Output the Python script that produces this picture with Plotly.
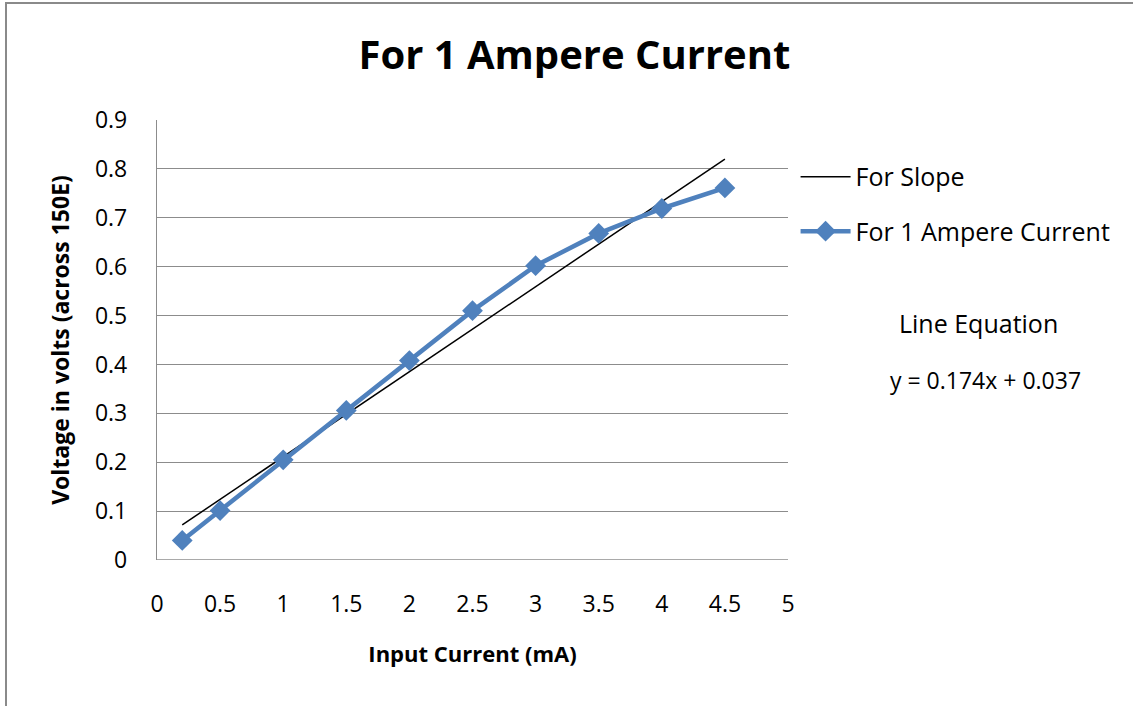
import plotly.graph_objects as go

# Measured voltage across the 150E resistor for a 1 A source
current_ma = [0.2, 0.5, 1.0, 1.5, 2.0, 2.5, 3.0, 3.5, 4.0, 4.5]
voltage_v = [0.040, 0.101, 0.205, 0.306, 0.408, 0.510, 0.602, 0.668, 0.719, 0.761]

# Fitted straight line y = m*x + c
slope_m = 0.174
intercept_c = 0.037
fit_x = [0.2, 4.5]
fit_y = [slope_m * x + intercept_c for x in fit_x]

x_ticks = [0, 0.5, 1, 1.5, 2, 2.5, 3, 3.5, 4, 4.5, 5]
y_ticks = [0, 0.1, 0.2, 0.3, 0.4, 0.5, 0.6, 0.7, 0.8, 0.9]

FONT = "Open Sans"
BLUE = "#4F81BD"
GRID = "#8C8C8C"

fig = go.Figure()

fig.add_trace(go.Scatter(
    x=fit_x, y=fit_y, mode="lines", name="For Slope",
    line=dict(color="black", width=1.5), legendgroup="a",
))
fig.add_trace(go.Scatter(
    x=current_ma, y=voltage_v, mode="lines+markers", name="For 1 Ampere Current",
    line=dict(color=BLUE, width=4.5),
    marker=dict(symbol="diamond", size=16, color=BLUE),
    legendgroup="b",
))

fig.update_layout(
    width=1133, height=706,
    margin=dict(l=157, r=345, t=120, b=146),
    paper_bgcolor="white", plot_bgcolor="white",
    font=dict(family=FONT, color="black", size=23),
    title=dict(
        text="<b>For 1 Ampere Current</b>",
        font=dict(family=FONT, size=40, color="black"),
        x=0.507, xanchor="center", y=0.922, yanchor="middle",
    ),
    showlegend=True,
    legend=dict(
        x=1.012, xanchor="left", y=0.923, yanchor="top",
        font=dict(family=FONT, size=25, color="black"),
        traceorder="grouped", tracegroupgap=19,
        itemwidth=50, bgcolor="rgba(0,0,0,0)",
    ),
    xaxis=dict(
        range=[0, 5], tickvals=x_ticks,
        ticktext=[f"{v:g}" for v in x_ticks],
        showgrid=False, zeroline=False, showline=False,
        ticks="", ticklabelstandoff=28,
        tickfont=dict(family=FONT, size=23),
        title=dict(text="<b>Input Current (mA)</b>",
                   font=dict(family=FONT, size=22), standoff=28),
    ),
    yaxis=dict(
        range=[0, 0.9], tickvals=y_ticks,
        ticktext=[f"{v:g}" for v in y_ticks],
        showgrid=True, gridcolor=GRID, gridwidth=1.3,
        zeroline=False, showline=True, linecolor=GRID, linewidth=1.3,
        ticks="", ticklabelstandoff=24,
        tickfont=dict(family=FONT, size=23),
        title=dict(text="<b>Voltage in volts (across 150E)</b>",
                   font=dict(family=FONT, size=23), standoff=18),
    ),
    annotations=[
        dict(text="Line Equation", xref="paper", yref="paper",
             x=(978 - 157) / 631, y=(560 - 323) / 440,
             xanchor="center", yanchor="middle", showarrow=False,
             font=dict(family=FONT, size=25)),
        dict(text=f"y = {slope_m:.3f}x + {intercept_c:.3f}", xref="paper", yref="paper",
             x=(985 - 157) / 631, y=(560 - 380) / 440,
             xanchor="center", yanchor="middle", showarrow=False,
             font=dict(family=FONT, size=23)),
    ],
    shapes=[
        # bottom grid line at y = 0
        dict(type="line", xref="paper", yref="y", x0=0, x1=1, y0=0, y1=0,
             line=dict(color=GRID, width=1.3)),
        # outer chart frame
        dict(type="rect", xref="paper", yref="paper",
             x0=(6 - 157) / 631, x1=2.0, y0=-1.0, y1=(560 - 3) / 440,
             line=dict(color="#8A8A8A", width=2), fillcolor="rgba(0,0,0,0)",
             layer="below"),
    ],
)

fig.write_html("out.html")
